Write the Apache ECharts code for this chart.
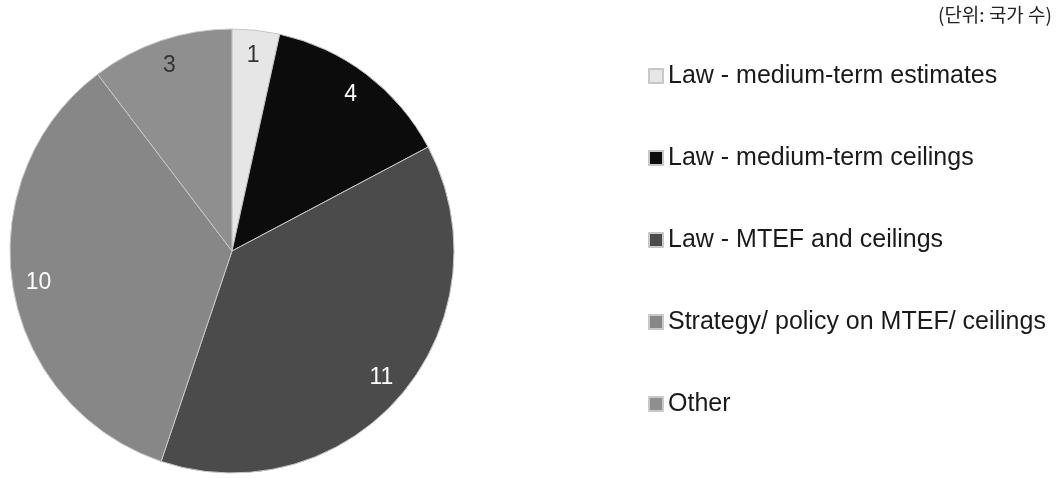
<!DOCTYPE html>
<html>
<head>
<meta charset="utf-8">
<script src="https://cdn.jsdelivr.net/npm/echarts@6/dist/echarts.min.js"></script>
<style>
  html, body { margin: 0; padding: 0; background: #ffffff; }
  #chart { width: 1060px; height: 479px; }
</style>
</head>
<body>
<div id="chart"></div>
<script>
// Number of countries by type of medium-term fiscal framework
const categories = [
  'Law - medium-term estimates',
  'Law - medium-term ceilings',
  'Law - MTEF and ceilings',
  'Strategy/ policy on MTEF/ ceilings',
  'Other'
];
const counts = [1, 4, 11, 10, 3];
const sliceColors = ['#e6e6e6', '#0c0c0c', '#4b4b4b', '#878787', '#8f8f8f'];
const labelColors = ['#333333', '#ffffff', '#ffffff', '#ffffff', '#333333'];
const unitText = '(단위: 국가 수)';

const center = [232, 251];
const outerR = 222;

const sliceData = categories.map((name, i) => ({
  name,
  value: counts[i],
  itemStyle: { color: sliceColors[i] }
}));

// transparent ring carrying the value labels near the rim
const labelData = categories.map((name, i) => ({
  name,
  value: counts[i],
  label: { color: labelColors[i] }
}));

const chart = echarts.init(document.getElementById('chart'), null, { renderer: 'canvas' });
chart.setOption({
  backgroundColor: '#ffffff',
  animation: false,
  title: {
    text: unitText,
    right: 3,
    top: 0,
    textStyle: {
      fontFamily: '"Noto Sans CJK KR", sans-serif',
      fontSize: 19,
      fontWeight: 'normal',
      color: '#222222'
    }
  },
  legend: {
    orient: 'vertical',
    left: 643,
    top: 58,
    data: categories,
    icon: 'rect',
    itemWidth: 14,
    itemHeight: 14,
    itemGap: 56,
    selectedMode: false,
    textStyle: {
      fontFamily: 'Arial, "Liberation Sans", sans-serif',
      fontSize: 25,
      lineHeight: 26,
      color: '#1a1a1a'
    }
  },
  series: [
    {
      type: 'pie',
      center: center,
      radius: [0, outerR],
      startAngle: 90,
      clockwise: true,
      data: sliceData,
      label: { show: false },
      labelLine: { show: false },
      itemStyle: { borderColor: '#c8c8c8', borderWidth: 1 },
      emphasis: { disabled: true }
    },
    {
      type: 'pie',
      center: center,
      radius: [164, outerR],
      startAngle: 90,
      clockwise: true,
      silent: true,
      data: labelData,
      itemStyle: { color: 'rgba(0,0,0,0)', borderWidth: 0 },
      label: {
        show: true,
        position: 'inside',
        formatter: '{c}',
        fontFamily: 'Arial, "Liberation Sans", sans-serif',
        fontSize: 23
      },
      labelLine: { show: false },
      emphasis: { disabled: true }
    }
  ]
});
</script>
</body>
</html>
